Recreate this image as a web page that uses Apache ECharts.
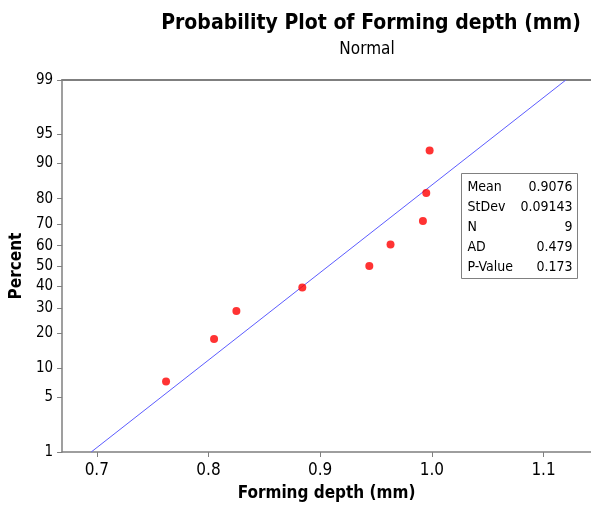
<!DOCTYPE html>
<html>
<head>
<meta charset="utf-8">
<script src="https://cdn.jsdelivr.net/npm/echarts@6/dist/echarts.min.js"></script>
<style>
html,body{margin:0;padding:0;background:#fff;}
#chart{width:591px;height:507px;}
</style>
</head>
<body>
<div id="chart"></div>
<script>
// ---- data ----
var depthValues = [0.762, 0.805, 0.825, 0.884, 0.944, 0.963, 0.992, 0.995, 0.998];
var percentValues = [7.45, 18.09, 28.72, 39.36, 50, 60.64, 71.28, 81.91, 92.55];
var fitLine = [[0.695, 1], [1.120, 99]];
var percentTicks = [1, 5, 10, 20, 30, 40, 50, 60, 70, 80, 90, 95, 99];
var xTicks = [0.7, 0.8, 0.9, 1.0, 1.1];
var statLabels = ['Mean', 'StDev', 'N', 'AD', 'P-Value'];
var statValues = ['0.9076', '0.09143', '9', '0.479', '0.173'];

// inverse normal CDF (Acklam)
function normInv(p) {
  var a = [-3.969683028665376e+01, 2.209460984245205e+02, -2.759285104469687e+02, 1.383577518672690e+02, -3.066479806614716e+01, 2.506628277459239e+00];
  var b = [-5.447609879822406e+01, 1.615858368580409e+02, -1.556989798598866e+02, 6.680131188771972e+01, -1.328068155833172e+01];
  var c = [-7.784894002430293e-03, -3.223964580411365e-01, -2.400758277161838e+00, -2.549732973509675e+00, 4.374664141464968e+00, 2.938163982698783e+00];
  var d = [7.784695709041462e-03, 3.224671290700398e-01, 2.445134137142996e+00, 3.754408661907416e+00];
  var plow = 0.02425, phigh = 1 - plow, q, r;
  if (p < plow) {
    q = Math.sqrt(-2 * Math.log(p));
    return (((((c[0]*q+c[1])*q+c[2])*q+c[3])*q+c[4])*q+c[5]) / ((((d[0]*q+d[1])*q+d[2])*q+d[3])*q+1);
  } else if (p <= phigh) {
    q = p - 0.5; r = q * q;
    return (((((a[0]*r+a[1])*r+a[2])*r+a[3])*r+a[4])*r+a[5])*q / (((((b[0]*r+b[1])*r+b[2])*r+b[3])*r+b[4])*r+1);
  } else {
    q = Math.sqrt(-2 * Math.log(1 - p));
    return -(((((c[0]*q+c[1])*q+c[2])*q+c[3])*q+c[4])*q+c[5]) / ((((d[0]*q+d[1])*q+d[2])*q+d[3])*q+1);
  }
}
function zOf(pct) { return normInv(pct / 100); }

var tickZ = percentTicks.map(zOf);
var pointData = depthValues.map(function (v, i) { return [v, zOf(percentValues[i])]; });
var lineData = fitLine.map(function (d) { return [d[0], zOf(d[1])]; });

var FONT = '"DejaVu Sans Condensed", "DejaVu Sans", sans-serif';
var axisGrey = '#7f7f7f';

var GL = 62, GT = 80, GR = 0, GB = 54;
var chart = echarts.init(document.getElementById('chart'));

var option = {
  animation: false,
  backgroundColor: '#fff',
  grid: { left: GL, top: GT, right: GR, bottom: GB, show: false },
  xAxis: [{
    type: 'value', min: 0.6689, max: 1.1425,
    name: 'Forming depth (mm)', nameLocation: 'middle', nameGap: 33,
    nameTextStyle: { fontFamily: FONT, fontWeight: 'bold', fontSize: 17, color: '#000' },
    axisLine: { show: true, onZero: false, lineStyle: { color: axisGrey, width: 1.5 } },
    axisTick: { show: true, length: 5, lineStyle: { color: axisGrey }, customValues: xTicks },
    axisLabel: { customValues: xTicks, fontFamily: FONT, fontSize: 17, color: '#000', margin: 10,
      formatter: function (v) { return v.toFixed(1); } },
    splitLine: { show: false }
  }, {
    type: 'value', position: 'top', min: 0.6689, max: 1.1425,
    axisLine: { show: true, onZero: false, lineStyle: { color: axisGrey, width: 2 } },
    axisTick: { show: false }, axisLabel: { show: false }, splitLine: { show: false }
  }],
  yAxis: {
    type: 'value', min: zOf(1), max: zOf(99),
    name: 'Percent', nameLocation: 'middle', nameGap: 35,
    nameTextStyle: { fontFamily: FONT, fontWeight: 'bold', fontSize: 17, color: '#000' },
    axisLine: { show: true, onZero: false, lineStyle: { color: axisGrey, width: 1.5 } },
    axisTick: { show: true, length: 5, lineStyle: { color: axisGrey }, customValues: tickZ },
    axisLabel: { customValues: tickZ, fontFamily: FONT, fontSize: 15, color: '#000', margin: 9,
      formatter: function (v) {
        var best = 0, bd = Infinity;
        tickZ.forEach(function (z, i) { var dd = Math.abs(z - v); if (dd < bd) { bd = dd; best = i; } });
        return String(percentTicks[best]);
      } },
    splitLine: { show: false }
  },
  title: [
    { text: 'Probability Plot of Forming depth (mm)', left: 366, top: 8, textAlign: 'center',
      textStyle: { fontFamily: FONT, fontWeight: 'bold', fontSize: 21, color: '#000' } },
    { text: 'Normal', left: 362, top: 36, textAlign: 'center',
      textStyle: { fontFamily: FONT, fontWeight: 'normal', fontSize: 17, color: '#000' } }
  ],
  series: [
    { type: 'line', data: lineData, symbol: 'none', silent: true,
      lineStyle: { color: '#5c5cff', width: 1 }, z: 2 },
    { type: 'scatter', data: pointData, symbol: 'circle', symbolSize: 8,
      itemStyle: { color: '#ff0000' }, z: 3 }
  ],
  graphic: []
};

// stats box
var box = { type: 'group', left: 461, top: 173, children: [
  { type: 'rect', shape: { x: 0, y: 0, width: 116, height: 105 },
    style: { fill: '#fff', stroke: '#808080', lineWidth: 1 } }
]};
statLabels.forEach(function (lab, i) {
  box.children.push({ type: 'text', x: 6, y: 14 + i * 20,
    style: { text: lab, font: '14px ' + FONT, fill: '#000', verticalAlign: 'middle' } });
  box.children.push({ type: 'text', x: 111, y: 14 + i * 20,
    style: { text: statValues[i], font: '14px ' + FONT, fill: '#000', align: 'right', verticalAlign: 'middle' } });
});
option.graphic.push(box);

chart.setOption(option);
</script>
</body>
</html>
